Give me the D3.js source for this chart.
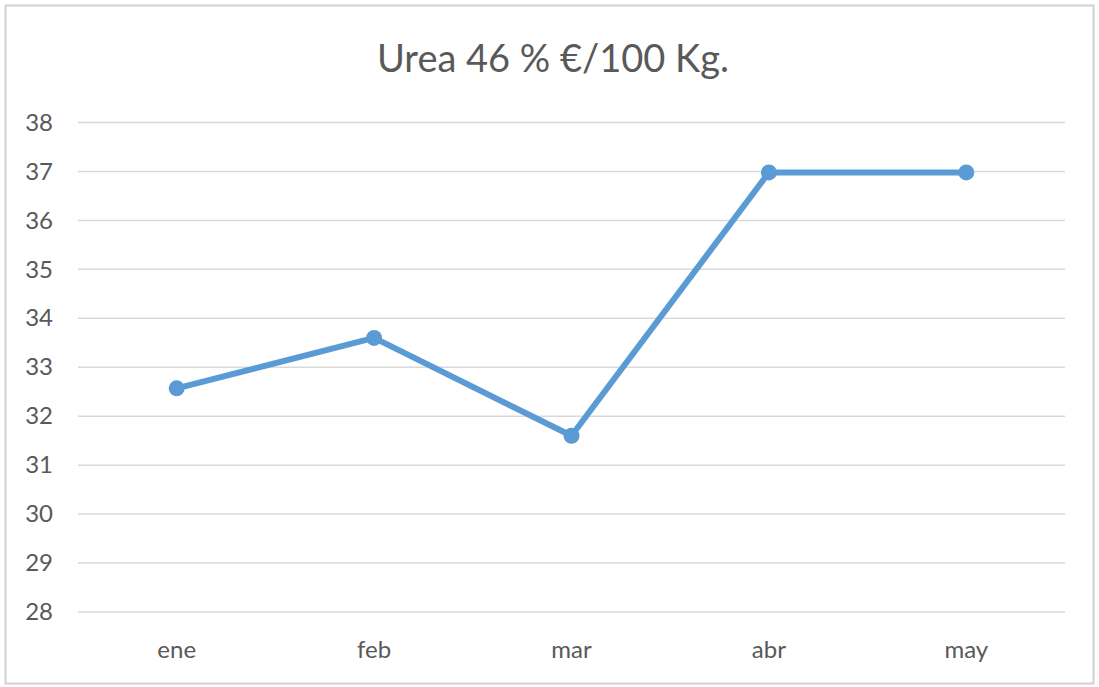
<!DOCTYPE html>
<html>
<head>
<meta charset="utf-8">
<script src="https://cdn.jsdelivr.net/npm/d3@7"></script>
<style>
    body { margin: 0; background: #fff; }
    svg text { font-family: Lato, "Open Sans", sans-serif; fill: #595959; }
</style>
</head>
<body>
<div id="chart"></div>
<script>
// Data
const months = ['ene', 'feb', 'mar', 'abr', 'may'];
const prices = [32.57, 33.6, 31.6, 36.98, 36.98];
const yTicks = [28, 29, 30, 31, 32, 33, 34, 35, 36, 37, 38];
const title = 'Urea 46 % €/100 Kg.';

const width = 1099, height = 687;
const margin = { top: 122.5, right: 34, bottom: 75, left: 78 };

const svg = d3.select('#chart')
    .append('svg')
    .attr('width', width)
    .attr('height', height);

// Outer frame
svg.append('rect')
    .attr('x', 5.5).attr('y', 5.5)
    .attr('width', 1088).attr('height', 678)
    .attr('fill', '#fff')
    .attr('stroke', '#d0d0d0')
    .attr('stroke-width', 2);

svg.append('text')
    .attr('x', 553)
    .attr('y', 72)
    .attr('text-anchor', 'middle')
    .style('font-size', '38px')
    .text(title);

// Scales
const x = d3.scaleBand()
    .domain(months)
    .range([margin.left, width - margin.right]);

const y = d3.scaleLinear()
    .domain([28, 38])
    .range([height - margin.bottom, margin.top]);

// Gridlines
svg.append('g')
    .selectAll('line')
    .data(yTicks)
    .join('line')
    .attr('x1', margin.left)
    .attr('x2', width - margin.right)
    .attr('y1', d => y(d))
    .attr('y2', d => y(d))
    .attr('stroke', '#d9d9d9')
    .attr('stroke-width', 1.5);

// Y axis
const yAxis = svg.append('g')
    .attr('transform', `translate(${margin.left}, 0)`)
    .call(d3.axisLeft(y).tickValues(yTicks).tickSize(0).tickPadding(25));
yAxis.select('.domain').remove();
yAxis.selectAll('text')
    .style('font-size', '24px')
    .style('font-family', 'Lato, sans-serif')
    .attr('fill', '#595959');

// X axis
const xAxis = svg.append('g')
    .attr('transform', `translate(0, ${height - margin.bottom})`)
    .call(d3.axisBottom(x).tickSize(0).tickPadding(29));
xAxis.select('.domain').remove();
xAxis.selectAll('text')
    .style('font-size', '24px')
    .style('font-family', 'Lato, sans-serif')
    .attr('fill', '#595959');

// Line
const cx = d => x(d) + x.bandwidth() / 2;
const line = d3.line()
    .x((d, i) => cx(months[i]))
    .y(d => y(d));

svg.append('path')
    .datum(prices)
    .attr('fill', 'none')
    .attr('stroke', '#5b9bd5')
    .attr('stroke-width', 6)
    .attr('stroke-linejoin', 'round')
    .attr('d', line);

svg.append('g')
    .selectAll('circle')
    .data(prices)
    .join('circle')
    .attr('cx', (d, i) => cx(months[i]))
    .attr('cy', d => y(d))
    .attr('r', 8)
    .attr('fill', '#5b9bd5');
</script>
</body>
</html>
